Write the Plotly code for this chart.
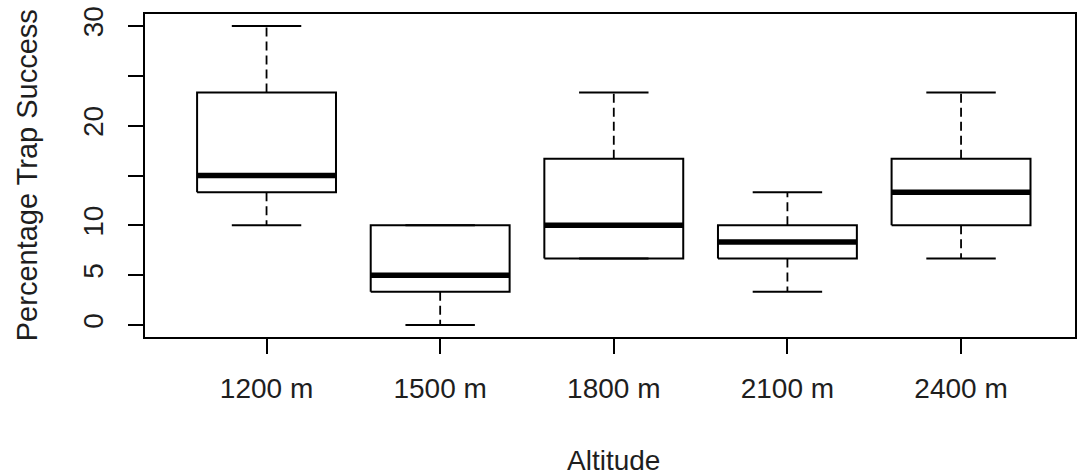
import plotly.graph_objects as go

categories = ["1200 m", "1500 m", "1800 m", "2100 m", "2400 m"]
lower_whisker = [10.0, 0.0, 6.67, 3.33, 6.67]
q1 = [13.33, 3.33, 6.67, 6.67, 10.0]
median = [15.0, 5.0, 10.0, 8.33, 13.33]
q3 = [23.33, 10.0, 16.67, 10.0, 16.67]
upper_whisker = [30.0, 10.0, 23.33, 13.33, 23.33]

y_tick_vals = [0, 5, 10, 15, 20, 25, 30]
y_tick_text = ["0", "5", "10", "", "20", "", "30"]

positions = list(range(1, len(categories) + 1))
BOX_HALF = 0.4
CAP_HALF = 0.2
FONT = "Liberation Sans, Arial, sans-serif"
TXT = "#1e1e1e"

fig = go.Figure()

for i, p in enumerate(positions):
    # dashed whiskers
    fig.add_trace(go.Scatter(
        x=[p, p, None, p, p],
        y=[q3[i], upper_whisker[i], None, q1[i], lower_whisker[i]],
        mode="lines", line=dict(color="black", width=1.8, dash="9px,5px"),
        hoverinfo="skip", showlegend=False))
    # caps
    fig.add_trace(go.Scatter(
        x=[p - CAP_HALF, p + CAP_HALF, None, p - CAP_HALF, p + CAP_HALF],
        y=[upper_whisker[i], upper_whisker[i], None, lower_whisker[i], lower_whisker[i]],
        mode="lines", line=dict(color="black", width=2),
        hoverinfo="skip", showlegend=False))
    # box
    fig.add_trace(go.Scatter(
        x=[p - BOX_HALF, p + BOX_HALF, p + BOX_HALF, p - BOX_HALF, p - BOX_HALF],
        y=[q1[i], q1[i], q3[i], q3[i], q1[i]],
        mode="lines", line=dict(color="black", width=2),
        hoverinfo="skip", showlegend=False))
    # median
    fig.add_trace(go.Scatter(
        x=[p - BOX_HALF, p + BOX_HALF],
        y=[median[i], median[i]],
        mode="lines", line=dict(color="black", width=5.5),
        hoverinfo="skip", showlegend=False))

L, T, B = 145, 14, 138
W, H = 1077, 475

fig.update_layout(
    width=W, height=H,
    margin=dict(l=L, r=0, t=T, b=B),
    paper_bgcolor="white", plot_bgcolor="white",
    font=dict(family=FONT, size=28, color=TXT),
    showlegend=False,
)

fig.update_xaxes(
    range=[0.3, 0.3 + (W - L) / 174],
    tickvals=positions, ticktext=categories,
    ticks="outside", ticklen=15, tickwidth=2, tickcolor="black",
    showline=True, linecolor="black", linewidth=2, mirror=True,
    showgrid=False, zeroline=False,
    tickfont=dict(size=28, color=TXT),
    ticklabelstandoff=10,
)
fig.update_yaxes(
    range=[-1.2, 31.2],
    tickvals=y_tick_vals, ticktext=y_tick_text,
    ticks="outside", ticklen=15, tickwidth=2, tickcolor="black",
    showline=True, linecolor="black", linewidth=2, mirror=True,
    showgrid=False, zeroline=False,
    tickangle=-90,
    tickfont=dict(size=28, color=TXT),
    ticklabelstandoff=14,
)

plot_w = W - L
plot_h = H - T - B


def px_to_paper(px, py):
    return (px - L) / plot_w, (H - B - py) / plot_h


ax, ay = px_to_paper(27, 175)
fig.add_annotation(text="Percentage Trap Success", x=ax, y=ay,
                   xref="paper", yref="paper", showarrow=False,
                   xanchor="center", yanchor="middle",
                   textangle=-90, font=dict(size=29, color=TXT))
bx, by = px_to_paper(615, 460)
fig.add_annotation(text="Altitude", x=bx, y=by,
                   xref="paper", yref="paper", showarrow=False,
                   xanchor="center", yanchor="middle",
                   font=dict(size=28, color=TXT))

fig.write_html("out.html", config={"displayModeBar": False},
               post_script="document.body.style.margin='0';")
